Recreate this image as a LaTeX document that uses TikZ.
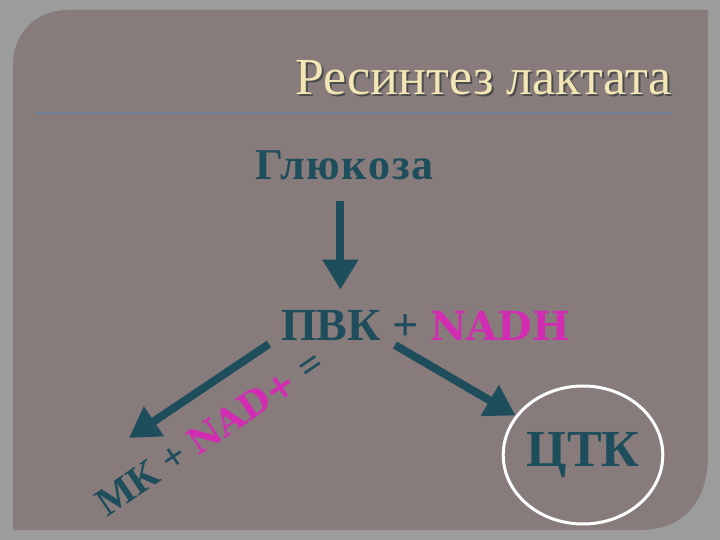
\documentclass[tikz,border=0pt]{standalone}
\usepackage{fontspec}
\setmainfont{Liberation Serif}
\newfontfamily\slabfont{DejaVu Serif}
\newfontfamily\widefont[LetterSpace=4]{Liberation Serif}
\usetikzlibrary{arrows.meta,shapes.geometric}
\definecolor{pagegray}{HTML}{9C9C9C}
\definecolor{panelmauve}{HTML}{877B7C}
\definecolor{darkteal}{HTML}{1E4D5B}
\definecolor{nadpink}{HTML}{D22CB2}
\definecolor{titlecream}{HTML}{F2E6B4}
\definecolor{rulegray}{HTML}{6E7F96}
\tikzset{
	chem/.style={inner sep=0,text=darkteal,font=\bfseries\fontsize{46}{46}\selectfont},
	fatarrow/.style={draw=darkteal,line width=8pt,-{Triangle[length=30pt,width=34pt]}}
}
\newcommand{\nadh}[1]{{\slabfont\color{nadpink}#1}}
\begin{document}
\begin{tikzpicture}[x=1pt,y=-1pt]
\fill[pagegray] (0,0) rectangle (720,540);
\useasboundingbox (0,0) rectangle (720,540);
% panel
\fill[panelmauve] (13,530) -- (13,65) .. controls (13,33) and (36,10) .. (68,10)
	-- (708,10) -- (708,455) .. controls (708,500) and (685,530) .. (640,530) -- cycle;
% title
\node[anchor=base east,inner sep=0,text=black!70,font=\fontsize{52}{52}\selectfont] at (674,97) {Ресинтез лактата};
\node[anchor=base east,inner sep=0,text=titlecream,font=\fontsize{52}{52}\selectfont] (title) at (672,95) {Ресинтез лактата};
\draw[rulegray,line width=2pt] (35,113) -- (673,113);
% scheme
\node[chem,anchor=base west,font=\widefont\bfseries\fontsize{44}{44}\selectfont] (glu) at (255,180) {Глюкоза};
\node[chem,anchor=base west] (pvk) at (281,340) {ПВК + \nadh{\fontsize{40}{40}\selectfont NADH}};
\node[chem,font=\bfseries\fontsize{52}{52}\selectfont,draw=white,line width=3pt,
	ellipse,minimum width=148pt,minimum height=138pt] (ctk) at (583,455) {ЦТК};
\node[chem,font=\bfseries\fontsize{40}{40}\selectfont,rotate=34] (mk) at (210,433) {МК + \nadh{\fontsize{36}{36}\selectfont NAD+} =};
\coordinate (lstart) at (269,344);
\coordinate (lend) at (129,438);
\coordinate (rstart) at (395,345);
\draw[fatarrow,shorten <=20pt,shorten >=20pt] ([xshift=-4pt]glu.south) -- ([xshift=-4pt]glu.south |- pvk.north);
\draw[fatarrow] (lstart) -- (lend);
\draw[fatarrow] (rstart) -- (ctk);
\end{tikzpicture}
\end{document}
